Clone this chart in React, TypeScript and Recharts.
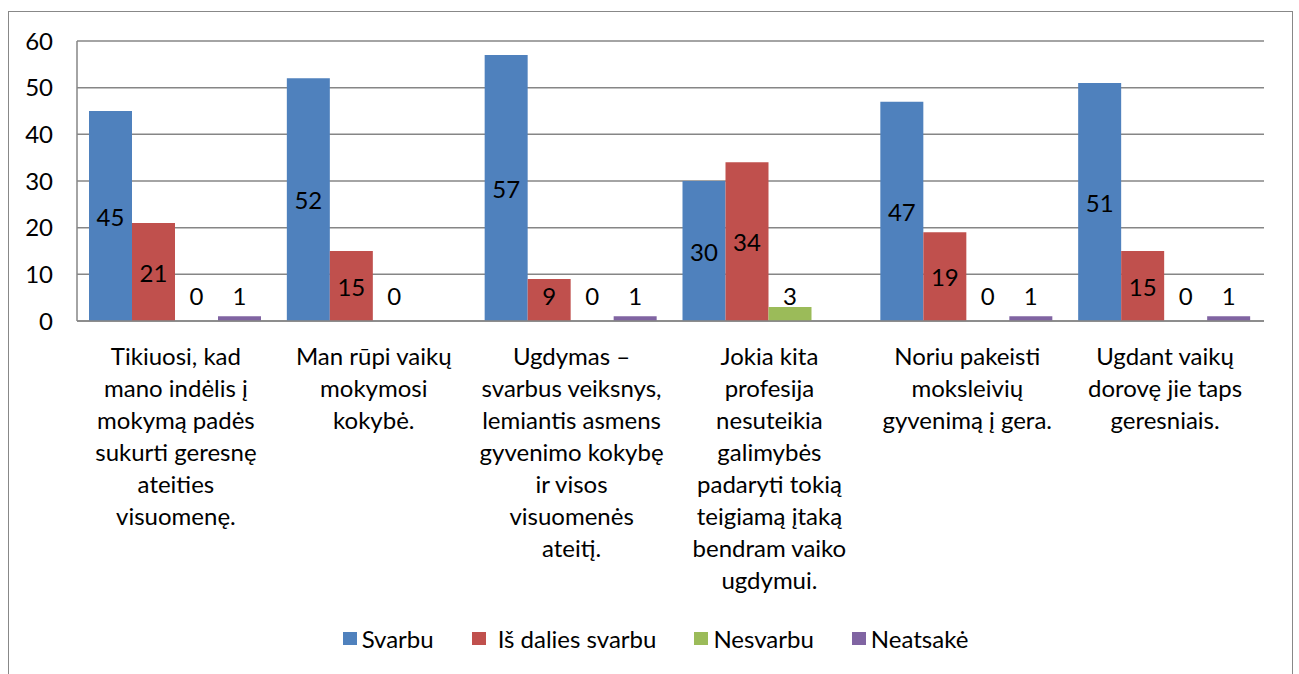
import React from "react";
import { BarChart, Bar, XAxis, YAxis, CartesianGrid, Legend, LabelList } from "recharts";

const categories = [
  "Tikiuosi, kad\nmano indėlis į\nmokymą padės\nsukurti geresnę\nateities\nvisuomenę.",
  "Man rūpi vaikų\nmokymosi\nkokybė.",
  "Ugdymas  –\nsvarbus veiksnys,\nlemiantis asmens\ngyvenimo kokybę\nir visos\nvisuomenės\nateitį.",
  "Jokia kita\nprofesija\nnesuteikia\ngalimybės\npadaryti tokią\nteigiamą įtaką\nbendram vaiko\nugdymui.",
  "Noriu pakeisti\nmoksleivių\ngyvenimą į gera.",
  "Ugdant vaikų\ndorovę jie taps\ngeresniais.",
];

const svarbu = [45, 52, 57, 30, 47, 51];
const isDaliesSvarbu = [21, 15, 9, 34, 19, 15];
const nesvarbu = [0, 0, 0, 3, 0, 0];
const neatsake: (number | null)[] = [1, null, 1, null, 1, 1];

const yTicks = [0, 10, 20, 30, 40, 50, 60];

const series = [
  { key: "svarbu", label: "Svarbu", color: "#4F81BD" },
  { key: "isDalies", label: "Iš dalies svarbu", color: "#C0504D" },
  { key: "nesvarbu", label: "Nesvarbu", color: "#9BBB59" },
  { key: "neatsake", label: "Neatsakė", color: "#8064A2" },
];

const data = categories.map((c, i) => ({
  name: c,
  svarbu: svarbu[i],
  isDalies: isDaliesSvarbu[i],
  nesvarbu: nesvarbu[i],
  neatsake: neatsake[i],
}));

const FONT = "Lato, 'Open Sans', sans-serif";
const FS = 24;

function CategoryTick(props: any) {
  const { x, y, payload } = props;
  const lines = String(payload.value).split("\n");
  return (
    <text x={x} y={y} textAnchor="middle" fontFamily={FONT} fontSize={FS} fill="#000">
      {lines.map((l, i) => (
        <tspan key={i} x={x} dy={i === 0 ? 36 : 32}>
          {l}
        </tspan>
      ))}
    </text>
  );
}

function BarValue(props: any) {
  const { x, y, width, height, value } = props;
  if (value === null || value === undefined) return null;
  const base = y + height;
  const cy = Math.min(y + height / 2, base - 26);
  return (
    <text
      x={x + width / 2}
      y={cy}
      textAnchor="middle"
      dominantBaseline="central"
      fontFamily={FONT}
      fontSize={FS}
      fill="#000"
    >
      {value}
    </text>
  );
}

function LegendContent() {
  return (
    <div style={{ display: "flex", justifyContent: "center", fontFamily: FONT, fontSize: FS, color: "#000", paddingLeft: 38 }}>
      {series.map((s) => (
        <div key={s.key} style={{ display: "flex", alignItems: "center", margin: "0 19px" }}>
          <span style={{ width: 14, height: 13, background: s.color, display: "inline-block", marginRight: s.key === "isDalies" ? 12 : 5 }} />
          <span>{s.label}</span>
        </div>
      ))}
    </div>
  );
}

export default function App() {
  return (
    <div
      style={{
        position: "fixed",
        top: 11,
        left: 8,
        width: 1283,
        height: 663,
        borderTop: "1px solid #888",
        borderLeft: "1px solid #888",
        borderRight: "1px solid #888",
        background: "#fff",
      }}
    >
      <BarChart
        width={1283}
        height={662}
        data={data}
        margin={{ top: 29, right: 28, left: 0, bottom: 21 }}
        barCategoryGap={12}
        barGap={0}
      >
        <CartesianGrid vertical={false} stroke="#868686" strokeWidth={1.5} />
        <XAxis
          dataKey="name"
          height={303}
          interval={0}
          tickLine={false}
          axisLine={{ stroke: "#868686", strokeWidth: 1.5 }}
          tick={<CategoryTick />}
        />
        <YAxis
          width={68}
          domain={[0, 60]}
          ticks={yTicks}
          tickLine={false}
          tickSize={0}
          tickMargin={24}
          axisLine={{ stroke: "#868686", strokeWidth: 1.5 }}
          tick={{ fontFamily: FONT, fontSize: FS, fill: "#000" }}
        />
        <Legend verticalAlign="bottom" content={<LegendContent />} />
        {series.map((s) => (
          <Bar
            key={s.key}
            dataKey={s.key}
            name={s.label}
            fill={s.color}
            isAnimationActive={false}
            minPointSize={(v: any) => (v === 0 ? 0.01 : 0)}
          >
            <LabelList dataKey={s.key} content={<BarValue />} />
          </Bar>
        ))}
      </BarChart>
    </div>
  );
}
